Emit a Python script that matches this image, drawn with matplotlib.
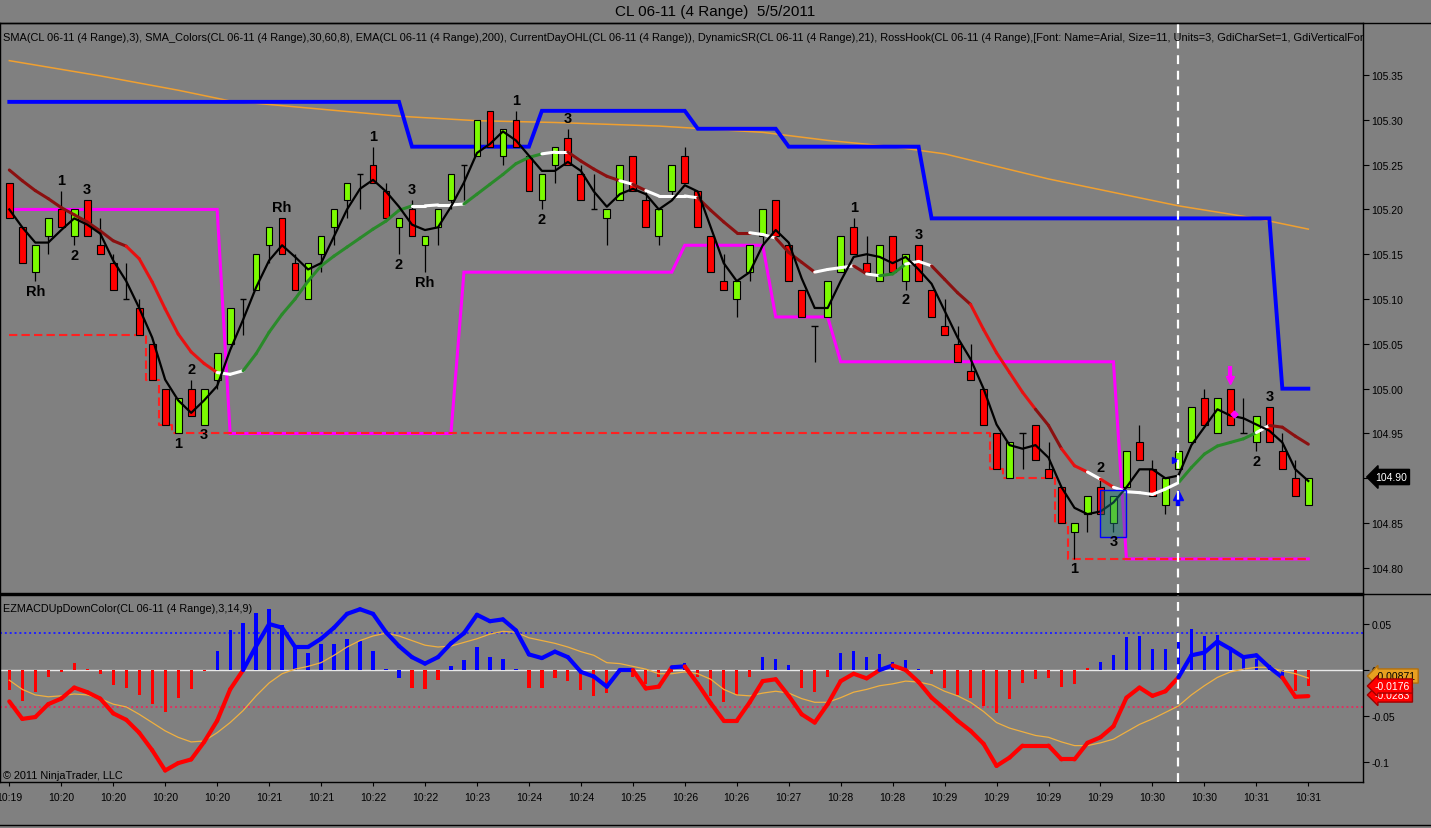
import numpy as np
import matplotlib
matplotlib.use('Agg')
import matplotlib.pyplot as plt
from matplotlib.collections import LineCollection
from matplotlib.lines import Line2D
from matplotlib.patches import Rectangle

plt.rcParams['font.family'] = ['Liberation Sans', 'DejaVu Sans']

# ---------------- data ----------------
opens = [105.23, 105.18, 105.13, 105.17, 105.20, 105.17, 105.21, 105.16, 105.14, 105.10,
         105.09, 105.05, 105.00, 104.95, 105.00, 104.96, 105.01, 105.05, 105.10, 105.11,
         105.16, 105.19, 105.14, 105.10, 105.15, 105.18, 105.21, 105.24, 105.25, 105.22,
         105.18, 105.20, 105.16, 105.18, 105.21, 105.25, 105.26, 105.31, 105.26, 105.30,
         105.26, 105.21, 105.25, 105.28, 105.24, 105.20, 105.19, 105.21, 105.26, 105.21,
         105.17, 105.22, 105.26, 105.22, 105.17, 105.12, 105.10, 105.13, 105.17, 105.21,
         105.16, 105.11, 105.07, 105.08, 105.13, 105.18, 105.14, 105.12, 105.17, 105.12,
         105.16, 105.11, 105.07, 105.05, 105.02, 105.00, 104.95, 104.90, 104.95, 104.96,
         104.91, 104.89, 104.84, 104.86, 104.89, 104.85, 104.89, 104.94, 104.91, 104.87,
         104.91, 104.94, 104.99, 104.95, 105.00, 104.95, 104.94, 104.98, 104.93, 104.90,
         104.87]
highs = [105.23, 105.18, 105.16, 105.19, 105.22, 105.20, 105.21, 105.19, 105.15, 105.14,
         105.10, 105.05, 105.00, 104.99, 105.01, 105.00, 105.04, 105.09, 105.10, 105.15,
         105.18, 105.19, 105.15, 105.14, 105.17, 105.20, 105.23, 105.24, 105.27, 105.23,
         105.19, 105.21, 105.17, 105.20, 105.24, 105.25, 105.30, 105.31, 105.29, 105.31,
         105.26, 105.24, 105.27, 105.29, 105.25, 105.24, 105.20, 105.25, 105.26, 105.22,
         105.20, 105.25, 105.27, 105.22, 105.17, 105.15, 105.12, 105.16, 105.20, 105.21,
         105.16, 105.11, 105.07, 105.12, 105.17, 105.19, 105.17, 105.16, 105.17, 105.15,
         105.16, 105.11, 105.10, 105.07, 105.05, 105.00, 104.95, 104.94, 104.95, 104.96,
         104.94, 104.89, 104.85, 104.88, 104.90, 104.88, 104.93, 104.96, 104.92, 104.90,
         104.93, 104.98, 105.00, 104.99, 105.00, 104.99, 104.97, 104.98, 104.95, 104.92,
         104.90]
lows = [105.19, 105.14, 105.12, 105.15, 105.18, 105.16, 105.17, 105.15, 105.11, 105.10,
        105.06, 105.01, 104.96, 104.95, 104.97, 104.96, 105.00, 105.05, 105.06, 105.11,
        105.14, 105.15, 105.11, 105.10, 105.13, 105.16, 105.19, 105.20, 105.23, 105.19,
        105.15, 105.17, 105.13, 105.16, 105.20, 105.21, 105.26, 105.27, 105.25, 105.27,
        105.22, 105.20, 105.23, 105.25, 105.21, 105.20, 105.16, 105.21, 105.22, 105.18,
        105.16, 105.21, 105.23, 105.18, 105.13, 105.11, 105.08, 105.12, 105.16, 105.17,
        105.12, 105.08, 105.03, 105.08, 105.13, 105.15, 105.13, 105.12, 105.13, 105.11,
        105.12, 105.08, 105.06, 105.03, 105.01, 104.96, 104.91, 104.90, 104.91, 104.92,
        104.90, 104.85, 104.81, 104.84, 104.86, 104.84, 104.89, 104.92, 104.88, 104.86,
        104.91, 104.94, 104.96, 104.95, 104.96, 104.95, 104.93, 104.94, 104.91, 104.88,
        104.87]
closes = [105.19, 105.14, 105.16, 105.19, 105.18, 105.20, 105.17, 105.15, 105.11, 105.10,
          105.06, 105.01, 104.96, 104.99, 104.97, 105.00, 105.04, 105.09, 105.10, 105.15,
          105.18, 105.15, 105.11, 105.14, 105.17, 105.20, 105.23, 105.24, 105.23, 105.19,
          105.19, 105.17, 105.17, 105.20, 105.24, 105.25, 105.30, 105.27, 105.29, 105.27,
          105.22, 105.24, 105.27, 105.25, 105.21, 105.20, 105.20, 105.25, 105.22, 105.18,
          105.20, 105.25, 105.23, 105.18, 105.13, 105.11, 105.12, 105.16, 105.20, 105.17,
          105.12, 105.08, 105.07, 105.12, 105.17, 105.15, 105.13, 105.16, 105.13, 105.15,
          105.12, 105.08, 105.06, 105.03, 105.01, 104.96, 104.91, 104.94, 104.95, 104.92,
          104.90, 104.85, 104.85, 104.88, 104.86, 104.88, 104.93, 104.92, 104.88, 104.90,
          104.93, 104.98, 104.96, 104.99, 104.96, 104.95, 104.97, 104.94, 104.91, 104.88,
          104.90]

# SMA(3) black line as shown
sma3 = [105.200, 105.180, 105.163, 105.163, 105.177, 105.190, 105.183, 105.173, 105.143, 105.120,
        105.090, 105.057, 105.010, 104.987, 104.973, 104.987, 105.003, 105.043, 105.077, 105.113,
        105.143, 105.160, 105.147, 105.133, 105.140, 105.170, 105.200, 105.223, 105.233, 105.220,
        105.203, 105.183, 105.177, 105.180, 105.203, 105.230, 105.263, 105.273, 105.287, 105.277,
        105.260, 105.243, 105.243, 105.253, 105.243, 105.220, 105.203, 105.217, 105.223, 105.217,
        105.200, 105.210, 105.227, 105.220, 105.180, 105.140, 105.120, 105.130, 105.160, 105.177,
        105.163, 105.123, 105.090, 105.090, 105.120, 105.147, 105.150, 105.147, 105.140, 105.147,
        105.133, 105.117, 105.087, 105.057, 105.033, 105.000, 104.960, 104.937, 104.933, 104.937,
        104.923, 104.890, 104.867, 104.860, 104.863, 104.873, 104.890, 104.910, 104.910, 104.900,
        104.903, 104.937, 104.957, 104.977, 104.970, 104.967, 104.960, 104.953, 104.940, 104.910,
        104.897]

# SMA_Colors line values and segment colour codes
sma_col = [105.244, 105.232, 105.221, 105.212, 105.202, 105.194, 105.186, 105.176, 105.165, 105.159,
           105.145, 105.119, 105.089, 105.061, 105.041, 105.028, 105.018, 105.016, 105.020, 105.039,
           105.063, 105.083, 105.100, 105.120, 105.137, 105.148, 105.158, 105.168, 105.178, 105.187,
           105.199, 105.204, 105.204, 105.205, 105.205, 105.206, 105.217, 105.228, 105.239, 105.251,
           105.258, 105.262, 105.264, 105.264, 105.254, 105.245, 105.237, 105.232, 105.228, 105.221,
           105.215, 105.215, 105.215, 105.213, 105.199, 105.186, 105.174, 105.174, 105.172, 105.168,
           105.152, 105.141, 105.130, 105.133, 105.135, 105.137, 105.128, 105.126, 105.128, 105.139,
           105.142, 105.137, 105.122, 105.107, 105.094, 105.066, 105.040, 105.018, 104.996, 104.977,
           104.959, 104.933, 104.914, 104.907, 104.899, 104.890, 104.885, 104.884, 104.882, 104.888,
           104.895, 104.912, 104.927, 104.936, 104.940, 104.944, 104.951, 104.959, 104.957, 104.947,
           104.938]
sma_col_codes = ("mmmmmmmmm" "rrrrrrr" "ww" "ggggggggggggg" "wwww" "gggggg" "ww" "mmmm" "w" "m"
                 "wwww" "mmmm" "ww" "mmm" "www" "m" "w" "gg" "ww" "mmm" "rrrrr" "mm" "rr" "w" "r"
                 "wwwww" "gggggg" "w" "mmm")

# EMA(200) read at selected bars
ema_bars = [0, 7, 13, 17, 30, 36, 42, 50, 58, 63, 68, 72, 80, 90, 96, 100]
ema_vals = [105.366, 105.349, 105.333, 105.321, 105.304, 105.299, 105.297, 105.293, 105.286,
            105.277, 105.270, 105.262, 105.234, 105.204, 105.190, 105.178]

# DynamicSR resistance (blue) / support (magenta): start bar of each level
res_start = [0, 31, 41, 53, 60, 71, 98]
res_level = [105.32, 105.27, 105.31, 105.29, 105.27, 105.19, 105.00]
sup_start = [0, 17, 35, 52, 59, 64, 86]
sup_level = [105.20, 104.95, 105.13, 105.16, 105.08, 105.03, 104.81]
# Current day low (red dashed)
dlow_start = [0, 11, 12, 13, 76, 77, 81, 82]
dlow_level = [105.06, 105.01, 104.96, 104.95, 104.91, 104.90, 104.85, 104.81]

# RossHook labels: (bar, text, above/below)
hook_labels = [(2, 'Rh', 'b'), (4, '1', 'a'), (5, '2', 'b'), (6, '3', 'a'), (13, '1', 'b'),
               (14, '2', 'a'), (15, '3', 'b'), (21, 'Rh', 'a'), (28, '1', 'a'), (30, '2', 'b'),
               (31, '3', 'a'), (32, 'Rh', 'b'), (39, '1', 'a'), (41, '2', 'b'), (43, '3', 'a'),
               (65, '1', 'a'), (69, '2', 'b'), (70, '3', 'a'), (82, '1', 'b'), (84, '2', 'a'),
               (85, '3', 'b'), (96, '2', 'b'), (97, '3', 'a')]

# EZMACD panel
macd = [-0.034, -0.053, -0.051, -0.037, -0.031, -0.019, -0.024, -0.031, -0.047, -0.054,
        -0.068, -0.087, -0.109, -0.101, -0.097, -0.078, -0.055, -0.021, 0.000, 0.026,
        0.050, 0.046, 0.025, 0.025, 0.034, 0.046, 0.061, 0.066, 0.061, 0.041,
        0.026, 0.014, 0.007, 0.014, 0.029, 0.040, 0.060, 0.053, 0.055, 0.043,
        0.017, 0.013, 0.020, 0.014, -0.002, -0.007, -0.018, 0.000, 0.000, -0.020,
        -0.018, 0.003, 0.004, -0.015, -0.036, -0.055, -0.055, -0.035, -0.012, -0.010,
        -0.028, -0.048, -0.057, -0.037, -0.012, -0.004, -0.009, 0.000, 0.005, 0.000,
        -0.013, -0.030, -0.042, -0.055, -0.066, -0.080, -0.104, -0.095, -0.082, -0.082,
        -0.082, -0.097, -0.097, -0.079, -0.073, -0.061, -0.030, -0.019, -0.028, -0.023,
        -0.008, 0.016, 0.019, 0.031, 0.023, 0.014, 0.016, 0.003, -0.008, -0.029,
        -0.0283]
signal = [-0.011, -0.021, -0.027, -0.029, -0.028, -0.026, -0.027, -0.031, -0.037, -0.040,
          -0.048, -0.057, -0.066, -0.073, -0.078, -0.077, -0.068, -0.057, -0.044, -0.028,
          -0.014, -0.004, 0.001, 0.004, 0.008, 0.016, 0.025, 0.032, 0.037, 0.040,
          0.037, 0.032, 0.027, 0.025, 0.026, 0.030, 0.034, 0.039, 0.042, 0.041,
          0.035, 0.032, 0.029, 0.025, 0.020, 0.016, 0.008, 0.007, 0.004, 0.001,
          -0.004, -0.004, -0.002, -0.004, -0.010, -0.021, -0.027, -0.028, -0.025, -0.023,
          -0.025, -0.031, -0.035, -0.035, -0.030, -0.024, -0.021, -0.017, -0.015, -0.012,
          -0.013, -0.016, -0.023, -0.028, -0.035, -0.045, -0.057, -0.063, -0.067, -0.071,
          -0.073, -0.078, -0.082, -0.082, -0.079, -0.075, -0.067, -0.059, -0.053, -0.046,
          -0.039, -0.027, -0.017, -0.008, -0.002, 0.001, 0.003, 0.003, -0.001, -0.004,
          -0.00871]
hist = [-0.022, -0.034, -0.024, -0.008, -0.002, 0.008, 0.001, -0.004, -0.016, -0.020,
        -0.027, -0.037, -0.046, -0.030, -0.021, -0.001, 0.021, 0.044, 0.051, 0.062,
        0.066, 0.049, 0.025, 0.018, 0.028, 0.028, 0.034, 0.031, 0.021, 0.001,
        -0.009, -0.020, -0.021, -0.011, 0.004, 0.011, 0.025, 0.014, 0.012, 0.001,
        -0.020, -0.020, -0.009, -0.012, -0.022, -0.028, -0.025, -0.003, -0.007, -0.015,
        -0.008, -0.002, 0.008, -0.007, -0.028, -0.035, -0.027, -0.008, 0.014, 0.012,
        0.005, -0.019, -0.024, -0.007, 0.019, 0.021, 0.014, 0.017, 0.009, 0.011,
        0.001, -0.004, -0.020, -0.027, -0.030, -0.039, -0.047, -0.031, -0.014, -0.010,
        -0.009, -0.018, -0.015, 0.002, 0.009, 0.016, 0.036, 0.037, 0.023, 0.023,
        0.030, 0.045, 0.037, 0.038, 0.025, 0.016, 0.012, 0.005, -0.009, -0.023,
        -0.0176]
hist_blue = list(range(16, 31)) + list(range(34, 40)) + [52, 58, 59, 60] + \
    list(range(64, 71)) + list(range(84, 99))
macd_blue_seg = list(range(18, 48)) + [51, 67] + list(range(90, 98))

tick_bars = list(range(0, 101, 4))
tick_labels = ['10:19', '10:20', '10:20', '10:20', '10:20', '10:21', '10:21', '10:22', '10:22',
               '10:23', '10:24', '10:24', '10:25', '10:26', '10:26', '10:27', '10:28', '10:28',
               '10:29', '10:29', '10:29', '10:29', '10:30', '10:30', '10:31', '10:31']
price_ticks = [104.80, 104.85, 104.90, 104.95, 105.00, 105.05, 105.10, 105.15, 105.20,
               105.25, 105.30, 105.35]
macd_ticks = [-0.1, -0.05, 0, 0.05]
macd_tick_labels = ['-0.1', '-0.05', '0', '0.05']

# ---------------- figure ----------------
BG = '#808080'
W, H = 1431, 829
fig = plt.figure(figsize=(W / 100, H / 100), dpi=100, facecolor=BG)

def fx(px):
    return px / W

def fy(py):
    return 1 - py / H

ax1 = fig.add_axes([0, fy(594), fx(1363), fy(24) - fy(594)], facecolor=BG)
ax2 = fig.add_axes([0, fy(783), fx(1363), fy(595.5) - fy(783)], facecolor=BG)

x = np.arange(len(closes))
XL = (-0.716, 104.21)
for ax in (ax1, ax2):
    ax.set_xlim(*XL)
    for s in ax.spines.values():
        s.set_color('black')
        s.set_linewidth(1.0)
ax1.set_ylim(104.772, 105.408)
ax2.set_ylim(-0.1215, 0.0820)

# step helper
def expand(starts, levels, n):
    counts = np.diff(list(starts) + [n])
    return np.repeat(levels, counts)

n = len(closes)
res = expand(res_start, res_level, n)
sup = expand(sup_start, sup_level, n)
dlow = expand(dlow_start, dlow_level, n)

# indicator lines under the candles
ax1.plot(ema_bars, ema_vals, color='#f0a030', lw=1.1, zorder=2)
ax1.plot(x, res, color='#0000ff', lw=2.8, zorder=2, solid_joinstyle='miter')
ax1.plot(x, sup, color='#ff00ff', lw=2.2, zorder=2, solid_joinstyle='miter')
ax1.plot(x, dlow, color='#ff2020', lw=1.5, ls=(0, (4, 2)), drawstyle='steps-mid', zorder=2)

# candles
o = np.array(opens); c = np.array(closes); h = np.array(highs); l = np.array(lows)
ax1.vlines(x, l, h, color='black', lw=0.9, zorder=3)
up = c > o
dn = c < o
dj = c == o
ax1.bar(x[up], (c - o)[up], bottom=o[up], width=0.52, color='#7cfc00', edgecolor='black',
        linewidth=0.8, zorder=4)
ax1.bar(x[dn], (o - c)[dn], bottom=c[dn], width=0.52, color='#ff0000', edgecolor='black',
        linewidth=0.8, zorder=4)
ax1.hlines(c[dj], x[dj] - 0.25, x[dj] + 0.25, color='black', lw=1.0, zorder=4)

# SMA_Colors line
cmap_codes = {'m': '#8b1010', 'r': '#e81010', 'w': '#ffffff', 'g': '#2a8a2a'}
pts = np.column_stack([x, sma_col])
segs = [pts[i:i + 2] for i in range(n - 1)]
lc = LineCollection(segs, colors=[cmap_codes[k] for k in sma_col_codes], linewidths=2.2,
                    zorder=5, capstyle='round')
ax1.add_collection(lc)

# SMA(3)
ax1.plot(x, sma3, color='black', lw=1.6, zorder=6)

# highlight rectangle
ax1.add_patch(Rectangle((84, 104.834), 2, 0.053, facecolor='#1f8080', alpha=0.45,
                        edgecolor='none', zorder=7))
ax1.add_patch(Rectangle((84, 104.834), 2, 0.053, facecolor='none', edgecolor='#0000ff',
                        lw=1.0, zorder=7))

# RossHook labels
for b, t, pos in hook_labels:
    if pos == 'a':
        yv = highs[b] + 0.0123
    else:
        yv = lows[b] - 0.0105
    ax1.text(b, yv, t, ha='center', va='center', fontsize=10.5, fontweight='bold',
             color='black', zorder=8)

# signal markers
ax1.plot([90, 90], [104.869, 104.879], color='#0000ff', lw=3.2, zorder=8, solid_capstyle='butt')
ax1.plot(90, 104.881, marker='^', color='#0000ff', ms=7, zorder=8)
ax1.plot(89.75, 104.92, marker='>', color='#0000ff', ms=5, zorder=8)
ax1.plot([94, 94], [105.013, 105.025], color='#ff00ff', lw=3.0, zorder=8, solid_capstyle='butt')
ax1.plot(94, 105.010, marker='v', color='#ff00ff', ms=6, zorder=8)
ax1.plot(94.25, 104.972, marker='D', color='#ff00ff', ms=3.5, zorder=8)

# vertical white dashed line
for ax in (ax1, ax2):
    ax.axvline(90, color='white', lw=1.6, ls=(0, (4, 3)), zorder=9)

# ---------- MACD panel ----------
ax2.axhline(0.04, color='#2020ff', lw=1.4, ls=(0, (1, 1.5)), zorder=1)
ax2.axhline(-0.04, color='#e03060', lw=1.4, ls=(0, (1, 1.5)), zorder=1)
ax2.axhline(0, color='#e8e8e8', lw=1.0, zorder=1)
hv = np.array(hist)
hcol = ['#0000ff' if i in hist_blue else '#ff0000' for i in range(n)]
ax2.bar(x, hv, width=0.25, color=hcol, zorder=2)
ax2.plot(x, signal, color='#f0b040', lw=0.9, zorder=3)
mp = np.column_stack([x, macd])
msegs = [mp[i:i + 2] for i in range(n - 1)]
mcols = ['#0000ff' if i in macd_blue_seg else '#ff0000' for i in range(n - 1)]
ax2.add_collection(LineCollection(msegs, colors=mcols, linewidths=3.0, zorder=4,
                                  capstyle='round', joinstyle='round'))

# ---------- axes ticks ----------
ax1.yaxis.tick_right()
ax1.set_yticks(price_ticks)
# the 104.90 tick label is covered by the last-price box in the original
ax1.set_yticklabels(['' if abs(v - closes[-1]) < 1e-9 else '%.2f' % v for v in price_ticks])
ax1.set_xticks([])
ax1.tick_params(axis='y', direction='out', length=4, width=0.8, colors='black',
                labelsize=7.5, pad=2)

ax2.yaxis.tick_right()
ax2.set_yticks(macd_ticks)
ax2.set_yticklabels(macd_tick_labels)
ax2.tick_params(axis='y', direction='out', length=4, width=0.8, colors='black',
                labelsize=7.5, pad=2)
ax2.set_xticks(tick_bars)
ax2.set_xticklabels(tick_labels)
ax2.tick_params(axis='x', direction='out', length=3, width=0.8, colors='black',
                labelsize=7.5, pad=4)

# ---------- texts ----------
fig.text(fx(715), fy(12), 'CL 06-11 (4 Range)  5/5/2011', ha='center', va='center',
         fontsize=11, color='black')
ind_text = ("SMA(CL 06-11 (4 Range),3), SMA_Colors(CL 06-11 (4 Range),30,60,8), "
            "EMA(CL 06-11 (4 Range),200), CurrentDayOHL(CL 06-11 (4 Range)), "
            "DynamicSR(CL 06-11 (4 Range),21), RossHook(CL 06-11 (4 Range),[Font: Name=Arial, "
            "Size=11, Units=3, GdiCharSet=1, GdiVerticalFont=False],3)")
ax1.text(0.002, (594 - 38) / 570, ind_text, transform=ax1.transAxes, ha='left', va='center',
         fontsize=7.9, color='black', clip_on=True, zorder=10)
ax2.text(0.002, (783 - 609) / 187.5, 'EZMACDUpDownColor(CL 06-11 (4 Range),3,14,9)',
         transform=ax2.transAxes, ha='left', va='center', fontsize=7.8, color='black', zorder=10)
ax2.text(0.002, (783 - 776) / 187.5, '\u00a9 2011 NinjaTrader, LLC', transform=ax2.transAxes,
         ha='left', va='center', fontsize=7.8, color='black', zorder=10)

# last price / value boxes
fig.text(fx(1375), fy(478), '%.2f' % closes[-1], ha='left', va='center', fontsize=7.5,
         color='white', bbox=dict(boxstyle='larrow,pad=0.25', fc='black', ec='black'))
fig.text(fx(1375), fy(677), '%.5f' % signal[-1], ha='left', va='center', fontsize=7.5,
         color='black', bbox=dict(boxstyle='larrow,pad=0.2', fc='#e8a020', ec='#b07010'))
fig.text(fx(1375), fy(696), '%.4f' % macd[-1], ha='left', va='center', fontsize=7.5,
         color='white', bbox=dict(boxstyle='larrow,pad=0.2', fc='#ff0000', ec='#a00000'))
fig.text(fx(1375), fy(687), '%.4f' % hist[-1], ha='left', va='center', fontsize=7.5,
         color='white', bbox=dict(boxstyle='larrow,pad=0.2', fc='#ff0000', ec='#a00000'))

# frame lines
for yy in (24, 595):
    fig.add_artist(Line2D([0, 1], [fy(yy), fy(yy)], transform=fig.transFigure,
                          color='black', lw=1.0))
fig.add_artist(Line2D([0, 1], [fy(826), fy(826)], transform=fig.transFigure,
                      color='black', lw=1.0))

fig.savefig('out.png', dpi=100, facecolor=BG)
